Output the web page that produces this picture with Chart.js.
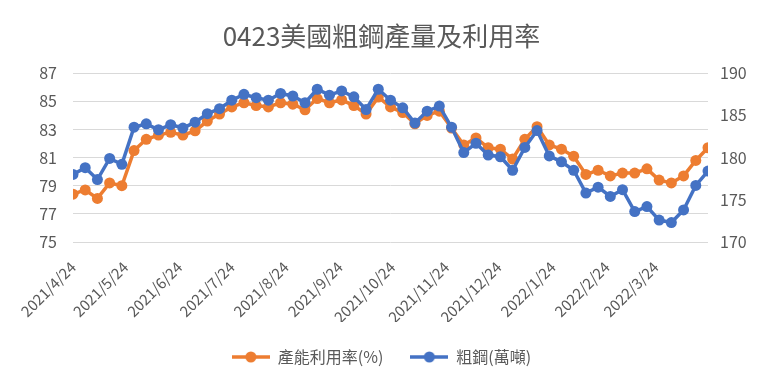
<!DOCTYPE html>
<html>
<head>
<meta charset="utf-8">
<script src="https://cdn.jsdelivr.net/npm/chart.js@4"></script>
<style>
html,body{margin:0;padding:0;background:#fff;}
#wrap{width:763px;height:383px;position:relative;}
</style>
</head>
<body>
<div id="wrap"><canvas id="c"></canvas></div>
<script>
// Weekly dates (categories)
const dates = [
  '2021/4/24','2021/5/1','2021/5/8','2021/5/15','2021/5/22','2021/5/29',
  '2021/6/5','2021/6/12','2021/6/19','2021/6/26','2021/7/3','2021/7/10',
  '2021/7/17','2021/7/24','2021/7/31','2021/8/7','2021/8/14','2021/8/21',
  '2021/8/28','2021/9/4','2021/9/11','2021/9/18','2021/9/25','2021/10/2',
  '2021/10/9','2021/10/16','2021/10/23','2021/10/30','2021/11/6','2021/11/13',
  '2021/11/20','2021/11/27','2021/12/4','2021/12/11','2021/12/18','2021/12/25',
  '2022/1/1','2022/1/8','2022/1/15','2022/1/22','2022/1/29','2022/2/5',
  '2022/2/12','2022/2/19','2022/2/26','2022/3/5','2022/3/12','2022/3/19',
  '2022/3/26','2022/4/2','2022/4/9','2022/4/16','2022/4/23'
];
// 產能利用率(%) – left axis
const utilization = [
  78.4,78.7,78.1,79.2,79.0,81.5,82.3,82.6,82.8,82.6,82.9,83.6,
  84.1,84.6,84.9,84.7,84.6,84.9,84.8,84.4,85.2,84.9,85.1,84.7,
  84.1,85.3,84.6,84.2,83.4,84.0,84.3,83.1,81.9,82.4,81.7,81.6,
  80.9,82.3,83.2,81.9,81.6,81.1,79.8,80.1,79.7,79.9,79.9,80.2,
  79.4,79.2,79.7,80.8,81.7
];
// 粗鋼(萬噸) – right axis
const crudeSteel = [
  178.0,178.8,177.4,179.9,179.2,183.6,184.0,183.3,183.9,183.5,184.2,185.2,
  185.8,186.8,187.5,187.1,186.8,187.6,187.3,186.5,188.1,187.4,187.9,187.2,
  185.7,188.1,186.8,185.9,184.1,185.5,186.1,183.6,180.6,181.7,180.3,180.1,
  178.5,181.2,183.2,180.2,179.5,178.5,175.8,176.5,175.4,176.2,173.6,174.2,
  172.6,172.3,173.8,176.7,178.4
];
// x-axis tick labels
const tickLabels = [
  '2021/4/24','2021/5/24','2021/6/24','2021/7/24','2021/8/24','2021/9/24',
  '2021/10/24','2021/11/24','2021/12/24','2022/1/24','2022/2/24','2022/3/24'
];
const leftTicks = [75,77,79,81,83,85,87];
const rightTicks = [170,175,180,185,190];

const ORANGE = '#ED7D31';
const BLUE = '#4472C4';
const TEXT = '#595959';

function dayNum(s){
  const p = s.split('/').map(Number);
  return Math.round((Date.UTC(p[0],p[1]-1,p[2]) - Date.UTC(2021,3,24))/86400000);
}
const xs = dates.map(dayNum);
const tickDays = tickLabels.map(dayNum);

function legendIcon(color){
  const c = document.createElement('canvas');
  c.width = 38; c.height = 14;
  const g = c.getContext('2d');
  g.strokeStyle = color; g.lineWidth = 3.5;
  g.beginPath(); g.moveTo(0,7); g.lineTo(38,7); g.stroke();
  g.fillStyle = color;
  g.beginPath(); g.arc(19,7,5.5,0,Math.PI*2); g.fill();
  return c;
}

Chart.defaults.font.family = "'Noto Sans CJK TC','Noto Sans',sans-serif";
Chart.defaults.color = TEXT;

const labels1 = '產能利用率(%)';
const labels2 = '粗鋼(萬噸)';

new Chart(document.getElementById('c'), {
  type: 'line',
  data: {
    datasets: [
      {
        label: labels1,
        data: utilization.map((v,i)=>({x: xs[i], y: v})),
        yAxisID: 'y',
        borderColor: ORANGE, backgroundColor: ORANGE,
        pointBackgroundColor: ORANGE, pointBorderColor: ORANGE,
        borderWidth: 3.5, pointRadius: 5.5, pointBorderWidth: 0,
        tension: 0, order: 1
      },
      {
        label: labels2,
        data: crudeSteel.map((v,i)=>({x: xs[i], y: v})),
        yAxisID: 'y1',
        borderColor: BLUE, backgroundColor: BLUE,
        pointBackgroundColor: BLUE, pointBorderColor: BLUE,
        borderWidth: 3.5, pointRadius: 5.5, pointBorderWidth: 0,
        tension: 0, order: 0
      }
    ]
  },
  options: {
    responsive: true,
    maintainAspectRatio: false,
    animation: false,
    devicePixelRatio: 1,
    layout: { padding: { left: 0, right: 0, top: 0, bottom: 8 } },
    plugins: {
      title: {
        display: true,
        text: '0423美國粗鋼產量及利用率',
        color: TEXT,
        font: { size: 26, weight: 'normal' },
        padding: { top: 21, bottom: 21 }
      },
      legend: {
        position: 'bottom',
        labels: {
          usePointStyle: true,
          pointStyleWidth: 38,
          padding: 27,
          font: { size: 16 },
          color: TEXT,
          generateLabels: (chart) => [
            { text: labels1, fillStyle: ORANGE, strokeStyle: ORANGE, lineWidth: 0,
              pointStyle: legendIcon(ORANGE), datasetIndex: 0, hidden: false, fontColor: TEXT },
            { text: labels2, fillStyle: BLUE, strokeStyle: BLUE, lineWidth: 0,
              pointStyle: legendIcon(BLUE), datasetIndex: 1, hidden: false, fontColor: TEXT }
          ]
        }
      },
      tooltip: { enabled: false }
    },
    scales: {
      x: {
        type: 'linear',
        min: 0, max: xs[xs.length-1],
        grid: { display: false },
        border: { display: false },
        afterBuildTicks: (s) => { s.ticks = tickDays.map(v => ({ value: v })); },
        afterFit: (s) => { s.height = 80; },
        ticks: {
          autoSkip: false,
          minRotation: 45, maxRotation: 45,
          padding: 8,
          color: TEXT,
          font: { size: 15 },
          callback: (v, i) => tickLabels[i]
        }
      },
      y: {
        position: 'left',
        min: 75, max: 87,
        afterBuildTicks: (s) => { s.ticks = leftTicks.map(v => ({ value: v })); },
        afterFit: (s) => { s.width = 73; },
        grid: { color: '#D9D9D9', lineWidth: 1, drawTicks: false },
        border: { display: false },
        ticks: { padding: 16, color: TEXT, font: { size: 16 } }
      },
      y1: {
        position: 'right',
        min: 170, max: 190,
        afterBuildTicks: (s) => { s.ticks = rightTicks.map(v => ({ value: v })); },
        afterFit: (s) => { s.width = 55; },
        grid: { display: false, drawTicks: false },
        border: { display: false },
        ticks: { padding: 12, color: TEXT, font: { size: 16 } }
      }
    }
  }
});
</script>
</body>
</html>
